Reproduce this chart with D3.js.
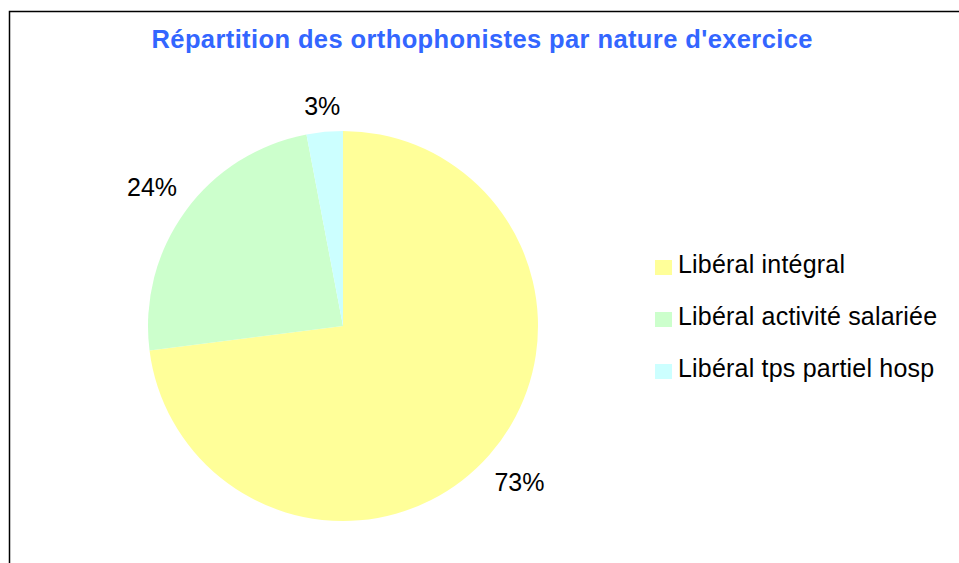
<!DOCTYPE html>
<html>
<head>
<meta charset="utf-8">
<script src="https://cdn.jsdelivr.net/npm/d3@7/dist/d3.min.js"></script>
<style>
  html, body { margin: 0; padding: 0; background: #fff; }
  svg { display: block; }
  text { font-family: "Liberation Sans", Arial, sans-serif; }
</style>
</head>
<body>
<svg id="chart" width="959" height="563"></svg>
<script>
// Share of speech therapists by type of practice (percent)
const categories = ["Libéral intégral", "Libéral activité salariée", "Libéral tps partiel hosp"];
const values = [73, 24, 3];
const colors = ["#FFFF99", "#CCFFCC", "#CCFFFF"];
const title = "Répartition des orthophonistes par nature d'exercice";

const svg = d3.select("#chart");

// chart frame (right and bottom edges run off the page)
svg.append("path")
  .attr("d", "M9.5,575 V11.5 H970")
  .attr("fill", "none")
  .attr("stroke", "#000")
  .attr("stroke-width", 1.5);

svg.append("text")
  .attr("x", 482).attr("y", 48)
  .attr("text-anchor", "middle")
  .attr("font-size", 25.5).attr("font-weight", "bold")
  .attr("fill", "#3366FF")
  .attr("textLength", 661).attr("lengthAdjust", "spacing")
  .text(title);

const cx = 343, cy = 326, R = 195;
const color = d3.scaleOrdinal().domain(categories).range(colors);

const pie = d3.pie().sort(null).value(d => d.value);
const data = pie(categories.map((c, i) => ({ cat: c, value: values[i] })));
const arc = d3.arc().innerRadius(0).outerRadius(R);

const g = svg.append("g").attr("transform", `translate(${cx},${cy})`);
g.selectAll("path.slice").data(data).join("path")
  .attr("class", "slice")
  .attr("d", arc)
  .attr("fill", d => color(d.data.cat));

// percentage labels placed outside the rim, pushed out by their own size
const fs = 25, capH = 18, gap = 15.5;
const total = d3.sum(values);
const fmt = v => Math.round(v / total * 100) + "%";
g.selectAll("text.lbl").data(data).join("text")
  .attr("class", "lbl")
  .attr("font-size", fs)
  .attr("fill", "#000")
  .attr("text-anchor", "middle")
  .text(d => fmt(d.data.value))
  .each(function(d) {
    const a = (d.startAngle + d.endAngle) / 2;
    const s = Math.sin(a), c = -Math.cos(a);
    const w = this.getComputedTextLength();
    const r = R + gap + Math.abs(s) * w / 2 + Math.abs(c) * capH / 2;
    d3.select(this)
      .attr("x", s * r)
      .attr("y", c * r + capH / 2);
  });

// legend
const lg = svg.append("g").attr("transform", "translate(655,258)");
const row = lg.selectAll("g").data(categories).join("g")
  .attr("transform", (d, i) => `translate(0,${i * 52})`);
row.append("rect")
  .attr("x", 0).attr("y", 2)
  .attr("width", 17).attr("height", 15)
  .attr("fill", d => color(d));
row.append("text")
  .attr("x", 23).attr("y", 15)
  .attr("font-size", 25)
  .attr("letter-spacing", 0.2)
  .attr("fill", "#000")
  .text(d => d);
</script>
</body>
</html>
